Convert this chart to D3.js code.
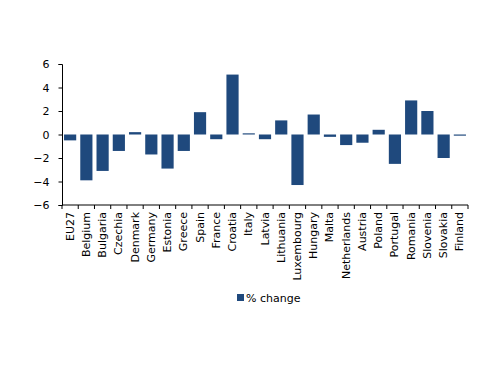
<!DOCTYPE html>
<html><head><meta charset="utf-8">
<script src="https://cdn.jsdelivr.net/npm/d3@7"></script>
<style>body{margin:0;background:#fff}svg{display:block}text{font-family:"DejaVu Sans",sans-serif}</style>
</head><body><svg id="c" width="500" height="386"></svg>
<script>
const categories = ["EU27","Belgium","Bulgaria","Czechia","Denmark","Germany","Estonia","Greece","Spain","France","Croatia","Italy","Latvia","Lithuania","Luxembourg","Hungary","Malta","Netherlands","Austria","Poland","Portugal","Romania","Slovenia","Slovakia","Finland"];
const values = [-0.5,-3.9,-3.1,-1.4,0.2,-1.7,-2.9,-1.4,1.9,-0.4,5.1,0.1,-0.4,1.2,-4.3,1.7,-0.2,-0.9,-0.7,0.4,-2.5,2.9,2.0,-2.0,-0.1];
const yTicks = [-6,-4,-2,0,2,4,6];
const seriesName = "% change";

(function(){
const svg = d3.select("#c");
const mL = 62, mR = 468, mT = 64, mB = 205;
const x = d3.scaleBand().domain(categories).range([mL, mR]).paddingInner(0.25).paddingOuter(0.125);
const y = d3.scaleLinear().domain([-6, 6]).range([mB, mT]);
const color = "#1f497d";

svg.append("g").selectAll("rect").data(categories).join("rect")
  .attr("x", d => x(d))
  .attr("width", x.bandwidth())
  .attr("y", (d,i) => y(Math.max(0, values[i])))
  .attr("height", (d,i) => Math.max(1, Math.abs(y(values[i]) - y(0))))
  .attr("fill", color);

const ya = svg.append("g").attr("transform", `translate(${mL},0)`)
  .call(d3.axisLeft(y).tickValues(yTicks).tickSize(3.5).tickPadding(9).tickFormat(d3.format("d")));
ya.selectAll("text").attr("font-size", 11).attr("fill", "#000").style("font-family", '"DejaVu Sans",sans-serif');
ya.select(".domain").attr("stroke", "#000");

const step = (mR - mL) / categories.length;
const xa = svg.append("g").attr("transform", `translate(0,${mB})`);
xa.append("line").attr("x1", mL).attr("x2", mR).attr("stroke", "#000");
xa.selectAll("line.t").data(d3.range(categories.length + 1)).join("line").attr("class","t")
  .attr("x1", i => mL + i*step).attr("x2", i => mL + i*step).attr("y1", 0).attr("y2", 4).attr("stroke", "#000");
xa.selectAll("text").data(categories).join("text")
  .attr("transform", d => `translate(${x(d) + x.bandwidth()/2 + 3.5},7) rotate(-90)`)
  .attr("text-anchor", "end")
  .attr("font-size", 11)
  .text(d => d);

const lg = svg.append("g").attr("transform", "translate(237,294)");
lg.append("rect").attr("width", 7).attr("height", 7).attr("fill", color);
lg.append("text").attr("x", 9).attr("y", 7.5).attr("font-size", 11).text(seriesName);
})();
</script></body></html>
